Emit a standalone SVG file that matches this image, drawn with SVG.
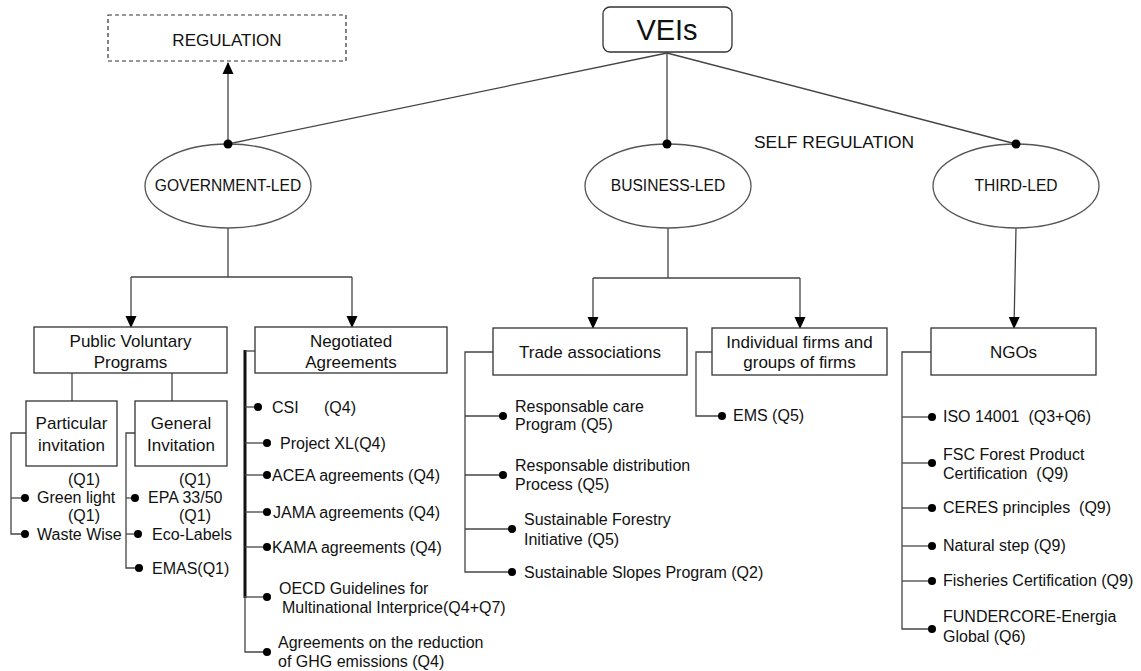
<svg xmlns="http://www.w3.org/2000/svg" width="1141" height="671" viewBox="0 0 1141 671">
<style>
text{font-family:"Liberation Sans",Arial,sans-serif;fill:#111}
.t{font-size:16px}
.b{font-size:17px;text-anchor:middle}
.e{font-size:15.6px;text-anchor:middle}
.box{fill:#fff;stroke:#333;stroke-width:1.3}
.ell{fill:#fff;stroke:#555;stroke-width:1.3}
.ln{fill:none;stroke:#444;stroke-width:1.3}
.dot{fill:#000}
</style>
<defs>
<marker id="ah" markerUnits="userSpaceOnUse" markerWidth="12" markerHeight="12" viewBox="0 0 12 12" refX="11" refY="6" orient="auto">
<path d="M0,0.5 L12,6 L0,11.5 z" fill="#000"/>
</marker>
</defs>

<g id="connectors">
<line class="ln" x1="228" y1="144" x2="228" y2="63" marker-end="url(#ah)"/>
<line class="ln" x1="667" y1="53" x2="228" y2="144"/>
<line class="ln" x1="667" y1="53" x2="667" y2="144"/>
<line class="ln" x1="667" y1="53" x2="1016" y2="144"/>
<polyline class="ln" points="228,228 228,277"/>
<polyline class="ln" points="131,277 352,277"/>
<line class="ln" x1="131" y1="277" x2="131" y2="327" marker-end="url(#ah)"/>
<line class="ln" x1="352" y1="277" x2="352" y2="327" marker-end="url(#ah)"/>
<polyline class="ln" points="668,228 668,278"/>
<polyline class="ln" points="593,278 800,278"/>
<line class="ln" x1="593" y1="278" x2="593" y2="328" marker-end="url(#ah)"/>
<line class="ln" x1="800" y1="278" x2="800" y2="328" marker-end="url(#ah)"/>
<line class="ln" x1="1016" y1="228" x2="1014" y2="328" marker-end="url(#ah)"/>
<line class="ln" x1="72" y1="373" x2="72" y2="401"/>
<line class="ln" x1="172" y1="373" x2="172" y2="401"/>
<polyline class="ln" points="26,433 11,433 11,534 25,534"/>
<line class="ln" x1="11" y1="498" x2="25" y2="498"/>
<polyline class="ln" points="135,433 126,433 126,568 139,568"/>
<line class="ln" x1="126" y1="498" x2="135" y2="498"/>
<line class="ln" x1="126" y1="534" x2="138" y2="534"/>
<line x1="245" y1="350" x2="245" y2="598" stroke="#111" stroke-width="3"/>
<polyline class="ln" points="245,596 245,652 267,652"/>
<line class="ln" x1="245" y1="351" x2="255" y2="351"/>
<line class="ln" x1="245" y1="407" x2="258" y2="407"/>
<line class="ln" x1="245" y1="443" x2="267" y2="443"/>
<line class="ln" x1="245" y1="475" x2="267" y2="475"/>
<line class="ln" x1="245" y1="512" x2="267" y2="512"/>
<line class="ln" x1="245" y1="547" x2="267" y2="547"/>
<line class="ln" x1="245" y1="597" x2="267" y2="597"/>
<polyline class="ln" points="493,352 465,352 465,572 512,572"/>
<line class="ln" x1="465" y1="416" x2="503" y2="416"/>
<line class="ln" x1="465" y1="475" x2="503" y2="475"/>
<line class="ln" x1="465" y1="529" x2="512" y2="529"/>
<polyline class="ln" points="712,352 696,352 696,416 722,416"/>
<polyline class="ln" points="931,352 902,352 902,629 932,629"/>
<line class="ln" x1="902" y1="417" x2="932" y2="417"/>
<line class="ln" x1="902" y1="463" x2="932" y2="463"/>
<line class="ln" x1="902" y1="508" x2="932" y2="508"/>
<line class="ln" x1="902" y1="546" x2="932" y2="546"/>
<line class="ln" x1="902" y1="581" x2="932" y2="581"/>
</g>

<g id="regulation">
<rect x="108" y="15" width="238" height="46" fill="#fff" stroke="#333" stroke-width="1.2" stroke-dasharray="4,3"/>
<text class="b" x="227" y="46">REGULATION</text>
</g>
<g id="veis">
<rect class="box" x="603" y="7" width="129" height="45" rx="7"/>
<text x="667" y="40" font-size="29" text-anchor="middle">VEIs</text>
</g>
<g id="self-regulation">
<text x="754" y="148" font-size="17.4">SELF REGULATION</text>
</g>
<g id="government-led">
<ellipse class="ell" cx="228" cy="186" rx="83" ry="42"/>
<text class="e" x="228" y="191">GOVERNMENT-LED</text>
<circle class="dot" cx="228" cy="144" r="4.5"/>
</g>
<g id="business-led">
<ellipse class="ell" cx="668" cy="186" rx="83" ry="42"/>
<text class="e" x="668" y="191">BUSINESS-LED</text>
<circle class="dot" cx="667" cy="144" r="4.5"/>
</g>
<g id="third-led">
<ellipse class="ell" cx="1016" cy="186" rx="83" ry="42"/>
<text class="e" x="1016" y="191">THIRD-LED</text>
<circle class="dot" cx="1016" cy="144" r="4.5"/>
</g>

<g id="public-voluntary">
<rect class="box" x="34" y="327" width="193" height="46"/>
<text class="b" x="130.5" y="347">Public Voluntary</text>
<text class="b" x="130.5" y="368">Programs</text>
</g>
<g id="particular">
<rect class="box" x="26" y="401" width="91" height="65"/>
<text class="b" x="71.5" y="429">Particular</text>
<text class="b" x="71.5" y="451">invitation</text>
<text class="t" x="68" y="485">(Q1)</text>
<circle class="dot" cx="25" cy="498" r="4"/><text class="t" x="37" y="503">Green light</text>
<text class="t" x="68" y="521">(Q1)</text>
<circle class="dot" cx="25" cy="534" r="4"/><text class="t" x="37" y="540">Waste Wise</text>
</g>
<g id="general">
<rect class="box" x="135" y="401" width="92" height="65"/>
<text class="b" x="181" y="429">General</text>
<text class="b" x="181" y="451">Invitation</text>
<text class="t" x="179" y="485">(Q1)</text>
<circle class="dot" cx="135" cy="498" r="4"/><text class="t" x="148" y="503">EPA 33/50</text>
<text class="t" x="179" y="521">(Q1)</text>
<circle class="dot" cx="138" cy="534" r="4"/><text class="t" x="152" y="540">Eco-Labels</text>
<circle class="dot" cx="139" cy="568" r="4"/><text class="t" x="152" y="574">EMAS(Q1)</text>
</g>

<g id="negotiated">
<rect class="box" x="255" y="327" width="192" height="46"/>
<text class="b" x="351" y="347">Negotiated</text>
<text class="b" x="351" y="368">Agreements</text>
<circle class="dot" cx="258" cy="407" r="4"/><text class="t" x="272" y="413">CSI</text><text class="t" x="324" y="413">(Q4)</text>
<circle class="dot" cx="267" cy="443" r="4"/><text class="t" x="280" y="449">Project XL(Q4)</text>
<circle class="dot" cx="267" cy="475" r="4"/><text class="t" x="272" y="481">ACEA agreements (Q4)</text>
<circle class="dot" cx="267" cy="512" r="4"/><text class="t" x="273" y="518">JAMA agreements (Q4)</text>
<circle class="dot" cx="267" cy="547" r="4"/><text class="t" x="272" y="553">KAMA agreements (Q4)</text>
<circle class="dot" cx="267" cy="597" r="4"/><text class="t" x="279" y="594">OECD Guidelines for</text><text class="t" x="282" y="613">Multinational Interprice(Q4+Q7)</text>
<circle class="dot" cx="267" cy="652" r="4"/><text class="t" x="278" y="648">Agreements on the reduction</text><text class="t" x="278" y="667">of GHG emissions (Q4)</text>
</g>

<g id="trade">
<rect class="box" x="493" y="328" width="194" height="47"/>
<text class="b" x="590" y="358">Trade associations</text>
<circle class="dot" cx="503" cy="416" r="4"/><text class="t" x="515" y="412">Responsable care</text><text class="t" x="515" y="430">Program (Q5)</text>
<circle class="dot" cx="503" cy="475" r="4"/><text class="t" x="515" y="471">Responsable distribution</text><text class="t" x="515" y="490">Process (Q5)</text>
<circle class="dot" cx="512" cy="529" r="4"/><text class="t" x="524" y="525">Sustainable Forestry</text><text class="t" x="524" y="545">Initiative (Q5)</text>
<circle class="dot" cx="512" cy="572" r="4"/><text class="t" x="524" y="578">Sustainable Slopes Program (Q2)</text>
</g>

<g id="individual">
<rect class="box" x="712" y="328" width="175" height="47"/>
<text class="b" x="799.5" y="348">Individual firms and</text>
<text class="b" x="799.5" y="368">groups of firms</text>
<circle class="dot" cx="722" cy="416" r="4"/><text class="t" x="733" y="421">EMS (Q5)</text>
</g>

<g id="ngos">
<rect class="box" x="931" y="328" width="165" height="47"/>
<text class="b" x="1013.5" y="358">NGOs</text>
<circle class="dot" cx="932" cy="417" r="4"/><text class="t" x="943" y="422" xml:space="preserve">ISO 14001  (Q3+Q6)</text>
<circle class="dot" cx="932" cy="463" r="4"/><text class="t" x="943" y="460">FSC Forest Product</text><text class="t" x="943" y="479" xml:space="preserve">Certification  (Q9)</text>
<circle class="dot" cx="932" cy="508" r="4"/><text class="t" x="943" y="513" xml:space="preserve">CERES principles  (Q9)</text>
<circle class="dot" cx="932" cy="546" r="4"/><text class="t" x="943" y="551">Natural step (Q9)</text>
<circle class="dot" cx="932" cy="581" r="4"/><text class="t" x="943" y="586">Fisheries Certification (Q9)</text>
<circle class="dot" cx="932" cy="629" r="4"/><text class="t" x="943" y="622">FUNDERCORE-Energia</text><text class="t" x="943" y="642">Global (Q6)</text>
</g>
</svg>
